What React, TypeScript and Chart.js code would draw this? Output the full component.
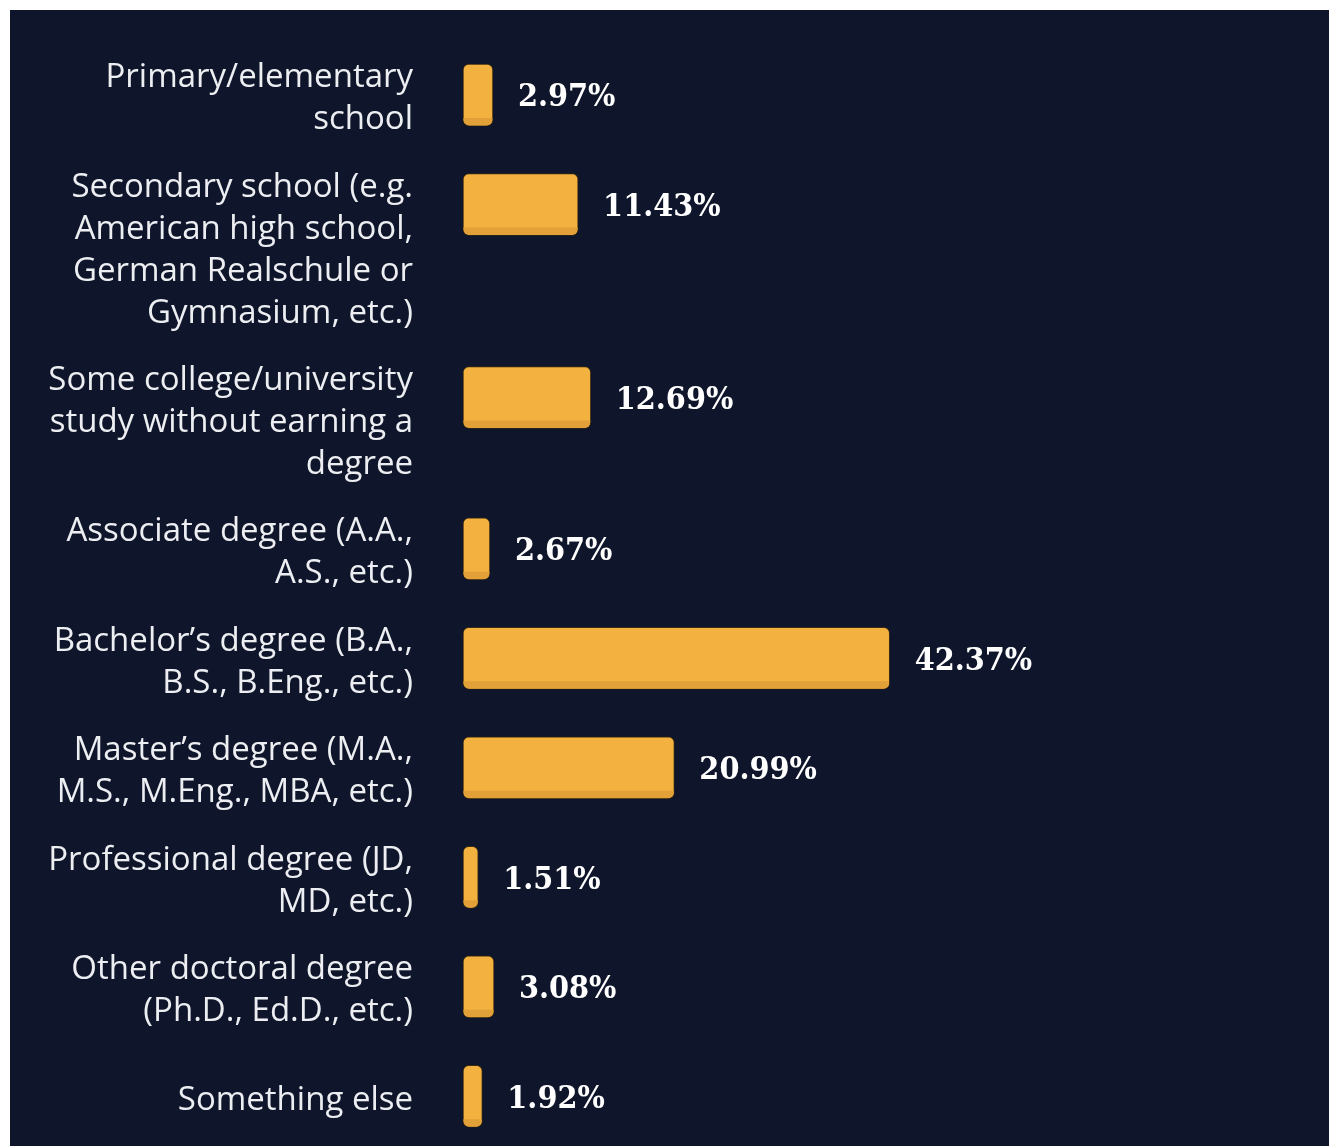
import React, { useEffect, useRef } from "react";
import { Chart, registerables } from "chart.js";

Chart.register(...registerables);

const categories: string[][] = [
  ["Primary/elementary", "school"],
  ["Secondary school (e.g.", "American high school,", "German Realschule or", "Gymnasium, etc.)"],
  ["Some college/university", "study without earning a", "degree"],
  ["Associate degree (A.A.,", "A.S., etc.)"],
  ["Bachelor’s degree (B.A.,", "B.S., B.Eng., etc.)"],
  ["Master’s degree (M.A.,", "M.S., M.Eng., MBA, etc.)"],
  ["Professional degree (JD,", "MD, etc.)"],
  ["Other doctoral degree", "(Ph.D., Ed.D., etc.)"],
  ["Something else"],
];
const values: number[] = [2.97, 11.43, 12.69, 2.67, 42.37, 20.99, 1.51, 3.08, 1.92];
const valueLabels: string[] = values.map((v) => v.toFixed(2) + "%");

// layout constants (in text-line units)
const LINE_PX = 41.75;
const ROW_GAP = 26 / LINE_PX;
const CANVAS_W = 1319;
const CANVAS_H = 1136;
const FIRST_ROW_TOP_PX = 43.25;
const LABEL_SIZE = 33;
const LABEL_LINE_PX = 42;

const barPos: number[] = [];
const labelPos: number[] = [];
{
  let top = 0;
  categories.forEach((c) => {
    const n = Math.max(2, c.length);
    barPos.push(top + 1);
    labelPos.push(top + n / 2);
    top += n + ROW_GAP;
  });
}

const BG = "#0f152a";
const BAR = "#f3b13f";
const BAR_DARK = "#e2a038";

function roundRect(ctx: CanvasRenderingContext2D, x: number, y: number, w: number, h: number, r: number) {
  const rr = Math.min(r, w / 2, h / 2);
  ctx.beginPath();
  ctx.moveTo(x + rr, y);
  ctx.lineTo(x + w - rr, y);
  ctx.arcTo(x + w, y, x + w, y + rr, rr);
  ctx.lineTo(x + w, y + h - rr);
  ctx.arcTo(x + w, y + h, x + w - rr, y + h, rr);
  ctx.lineTo(x + rr, y + h);
  ctx.arcTo(x, y + h, x, y + h - rr, rr);
  ctx.lineTo(x, y + rr);
  ctx.arcTo(x, y, x + rr, y, rr);
  ctx.closePath();
}

const barDecor = {
  id: "barDecor",
  afterDatasetsDraw(chart: any) {
    const ctx: CanvasRenderingContext2D = chart.ctx;
    const meta = chart.getDatasetMeta(0);
    meta.data.forEach((bar: any, i: number) => {
      const left = Math.min(bar.base, bar.x);
      const w = Math.abs(bar.x - bar.base);
      const h = bar.height;
      const top = bar.y - h / 2;
      ctx.save();
      roundRect(ctx, left + 0.5, top + 0.5, w - 1, h - 1, 6);
      ctx.clip();
      ctx.fillStyle = BAR_DARK;
      ctx.fillRect(left, top + h - 8, w, 8);
      ctx.restore();

      ctx.save();
      ctx.fillStyle = "#ffffff";
      ctx.font = 'bold 32px "DejaVu Serif Condensed", "DejaVu Serif", serif';
      ctx.textAlign = "left";
      ctx.textBaseline = "middle";
      ctx.fillText(valueLabels[i], bar.x + 25, bar.y + 3);
      ctx.restore();
    });
  },
};

export default function App() {
  const ref = useRef<HTMLCanvasElement | null>(null);
  useEffect(() => {
    if (!ref.current) return;
    const chart = new Chart(ref.current, {
      type: "bar",
      data: {
        datasets: [
          {
            data: values.map((v, i) => ({ x: v, y: barPos[i] })),
            backgroundColor: BAR,
            borderColor: "#3a2b12",
            borderWidth: 1,
            borderSkipped: false,
            borderRadius: 6,
            barThickness: 62,
            clip: false,
          },
        ],
      },
      options: {
        animation: false,
        responsive: false,
        indexAxis: "y",
        layout: { padding: 0 },
        plugins: { legend: { display: false }, tooltip: { enabled: false } },
        scales: {
          x: { type: "linear", display: false, min: 0, max: 86 },
          y: {
            type: "linear",
            reverse: true,
            min: 0,
            max: CANVAS_H / LINE_PX,
            grid: { display: false, drawTicks: false },
            border: { display: false },
            afterBuildTicks: (scale: any) => {
              scale.ticks = labelPos.map((v) => ({ value: v }));
            },
            afterFit: (scale: any) => {
              scale.width = 453;
            },
            ticks: {
              autoSkip: false,
              padding: 50,
              labelOffset: 4,
              color: "#eceef2",
              font: {
                family: "'Open Sans', 'Noto Sans', sans-serif",
                size: LABEL_SIZE,
                lineHeight: LABEL_LINE_PX / LABEL_SIZE,
              },
              callback: (_v: any, idx: number) => categories[idx],
            },
          },
        },
      },
      plugins: [barDecor],
    } as any);
    // calibrate the row scale so one text line equals LINE_PX pixels
    const ys: any = chart.scales.y;
    const pA = ys.getPixelForValue(ys.min);
    const pB = ys.getPixelForValue(ys.max);
    const spanPx = pB - pA;
    const min2 = (pA - FIRST_ROW_TOP_PX) / LINE_PX;
    (chart.options.scales as any).y.min = min2;
    (chart.options.scales as any).y.max = min2 + spanPx / LINE_PX;
    chart.update();
    return () => chart.destroy();
  }, []);
  return (
    <div
      style={{
        position: "absolute",
        left: 10,
        top: 10,
        width: CANVAS_W,
        height: CANVAS_H,
        background: BG,
      }}
    >
      <canvas ref={ref} width={CANVAS_W} height={CANVAS_H} />
    </div>
  );
}
